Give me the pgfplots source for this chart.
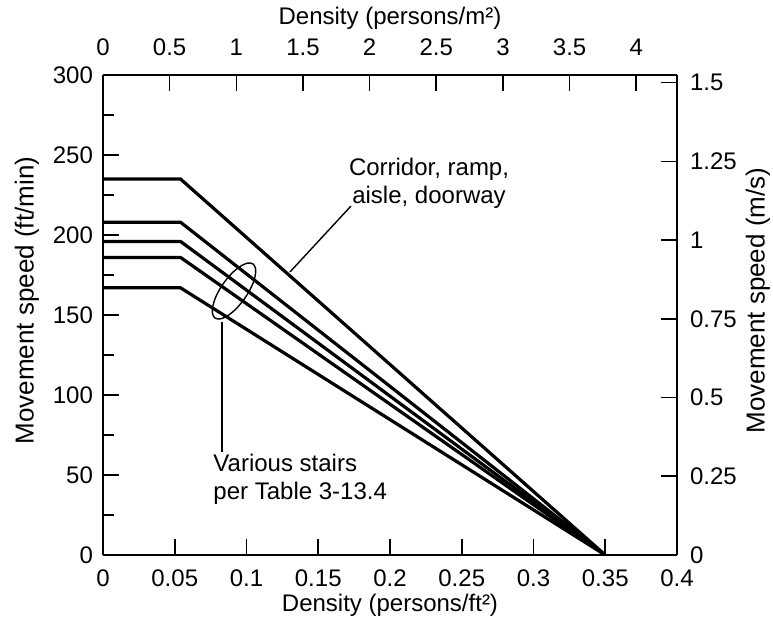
\documentclass[border=0pt]{standalone}
\usepackage{fontspec}
\setmainfont{Liberation Sans}
\usepackage{pgfplots}
\pgfplotsset{compat=1.18}
\usetikzlibrary{shapes.geometric}

\begin{document}
\begin{tikzpicture}
\useasboundingbox (-51.5pt,-36.5pt) rectangle (335pt,277.5pt);
\pgfplotsset{every axis/.append style={
    font=\fontsize{12}{14}\selectfont,
    /pgf/number format/assume math mode=true,
    scale only axis, width=287pt, height=240pt,
    tick align=inside, major tick length=8pt, minor tick length=5.5pt,
    axis line style={line width=0.8pt},
    every tick/.style={black, line width=0.8pt},
}}

\begin{axis}[
    xmin=0, xmax=0.4, ymin=0, ymax=300,
    axis x line*=bottom, axis y line*=left,
    xtick={0,0.05,0.1,0.15,0.2,0.25,0.3,0.35,0.4},
    ytick={0,50,100,150,200,250,300},
    minor ytick={25,75,125,175,225,275},
    scaled x ticks=false,
    xticklabel style={/pgf/number format/fixed, /pgf/number format/precision=2, yshift=-4pt},
    yticklabel style={xshift=-1.5pt},
    xlabel={Density (persons/ft²)},
    ylabel={Movement speed (ft/min)},
    xlabel style={at={(axis description cs:0.5,-0.1042)}, anchor=center},
    ylabel style={at={(axis description cs:-0.1324,0.53)}, anchor=center,
                  font=\fontsize{13}{15}\selectfont},
]
% corridor, ramp, aisle, doorway
\addplot[black, line width=1.6pt] coordinates {(0,235)(0.054,235)(0.35,0)};
% stairs
\addplot[black, line width=1.6pt] coordinates {(0,208)(0.054,208)(0.35,0)};
\addplot[black, line width=1.6pt] coordinates {(0,196)(0.054,196)(0.35,0)};
\addplot[black, line width=1.6pt] coordinates {(0,186)(0.054,186)(0.35,0)};
\addplot[black, line width=1.6pt] coordinates {(0,167)(0.054,167)(0.35,0)};

\draw[line width=0.7pt] (axis cs:0.1303,176.9) -- (axis cs:0.1728,218.1);
\node[align=center] at (axis cs:0.2272,232.5) {Corridor, ramp,\\aisle, doorway};
\node[draw, line width=0.7pt, ellipse, minimum width=33pt, minimum height=13pt,
      inner sep=0pt, rotate=55] at (axis cs:0.0913,165) {};
\draw[line width=0.7pt] (axis cs:0.0829,145.6) -- (axis cs:0.0829,64.4);
\node[align=left, anchor=west, inner sep=0pt] at (axis cs:0.0767,47.5) {Various stairs\\per Table 3-13.4};
\end{axis}

\begin{axis}[
    xmin=0, xmax=4.30556, ymin=0, ymax=1.524,
    axis x line*=top, axis y line*=right,
    xticklabel pos=top, yticklabel pos=right,
    xtick={0,0.5,1,1.5,2,2.5,3,3.5,4},
    ytick={0,0.25,0.5,0.75,1,1.25,1.5},
    xticklabel style={yshift=6pt},
    yticklabel style={xshift=3pt},
    xlabel={Density (persons/m²)},
    ylabel={Movement speed (m/s)},
    xlabel style={at={(axis description cs:0.5,1.11875)}, anchor=center},
    ylabel style={at={(axis description cs:1.1411,0.53)}, anchor=center,
                  font=\fontsize{13}{15}\selectfont},
]
\end{axis}
\end{tikzpicture}
\end{document}
